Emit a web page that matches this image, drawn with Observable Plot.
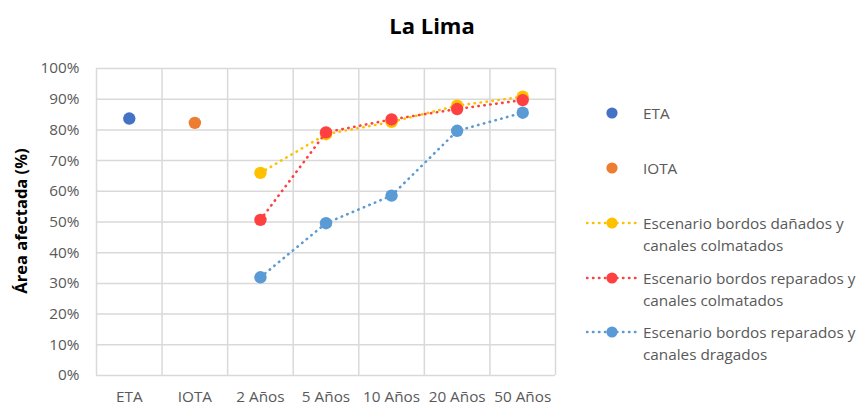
<!DOCTYPE html>
<html>
<head>
<meta charset="utf-8">
<script src="https://cdn.jsdelivr.net/npm/d3@7"></script>
<script src="https://cdn.jsdelivr.net/npm/@observablehq/plot@0.6"></script>
<style>
  html, body { margin: 0; padding: 0; background: #fff; }
  #wrap { position: relative; width: 859px; height: 405px; overflow: hidden; font-family: "Open Sans", sans-serif; }
  #title { position: absolute; left: 0; width: 864px; top: 10px; text-align: center; font-weight: bold; font-size: 22px; color: #000; line-height: 30px; }
  #ylabel { position: absolute; left: 20px; top: 221px; transform: translate(-50%, -50%) rotate(-90deg); white-space: nowrap; font-weight: bold; font-size: 16.5px; color: #000; }
  #chart { position: absolute; left: 0; top: 0; }
  .leg { position: absolute; left: 586px; display: flex; align-items: flex-start; font-size: 15.3px; color: #595959; line-height: 22px; }
  .leg svg { flex: none; margin-right: 3px; }
</style>
</head>
<body>
<div id="wrap">
  <div id="chart"></div>
  <div id="title">La Lima</div>
  <div id="ylabel">Área afectada (%)</div>
  <div id="legend"></div>
</div>
<script>
// ---- data ----
const categories = ["ETA", "IOTA", "2 Años", "5 Años", "10 Años", "20 Años", "50 Años"];
const yTicks = [0, 0.1, 0.2, 0.3, 0.4, 0.5, 0.6, 0.7, 0.8, 0.9, 1.0];
const etaCategory = ["ETA"];
const etaValues = [0.837];
const iotaCategory = ["IOTA"];
const iotaValues = [0.823];
const scenarioCategories = ["2 Años", "5 Años", "10 Años", "20 Años", "50 Años"];
const danadosColmatados = [0.660, 0.786, 0.826, 0.879, 0.908];
const reparadosColmatados = [0.507, 0.792, 0.834, 0.868, 0.897];
const reparadosDragados = [0.320, 0.496, 0.586, 0.797, 0.856];

const seriesNames = [
  "ETA",
  "IOTA",
  "Escenario bordos dañados y canales colmatados",
  "Escenario bordos reparados y canales colmatados",
  "Escenario bordos reparados y canales dragados"
];
const colors = ["#4472C4", "#ED7D31", "#FFC000", "#FF4040", "#5B9BD5"];

// ---- build tables ----
const idx = c => categories.indexOf(c);
const toRows = (cats, vals) => cats.map((c, i) => ({x: idx(c), y: vals[i]}));
const eta = toRows(etaCategory, etaValues);
const iota = toRows(iotaCategory, iotaValues);
const sA = toRows(scenarioCategories, danadosColmatados);
const sB = toRows(scenarioCategories, reparadosColmatados);
const sC = toRows(scenarioCategories, reparadosDragados);
const boundaries = d3.range(categories.length + 1).map(i => i - 0.5);

const dash = {strokeWidth: 2.6, strokeDasharray: "0.4,5.6", strokeLinecap: "round"};
const R = 6.2;

const chart = Plot.plot({
  width: 575,
  height: 405,
  marginLeft: 96,
  marginRight: 20,
  marginTop: 68,
  marginBottom: 30,
  style: {fontFamily: "Open Sans, sans-serif", fontSize: "15.3px", color: "#595959", background: "transparent"},
  x: {type: "linear", domain: [-0.5, categories.length - 0.5], ticks: d3.range(categories.length),
      tickFormat: i => categories[i], tickSize: 0, tickPadding: 16, label: null},
  y: {domain: [0, 1], ticks: yTicks, tickFormat: d3.format(".0%"), tickSize: 0, tickPadding: 17, label: null},
  marks: [
    Plot.ruleY(yTicks, {stroke: "#d9d9d9", strokeWidth: 1.5}),
    Plot.ruleX(boundaries, {stroke: "#d9d9d9", strokeWidth: 1.5}),
    Plot.dot(eta, {x: "x", y: "y", r: R, fill: colors[0]}),
    Plot.dot(iota, {x: "x", y: "y", r: R, fill: colors[1]}),
    Plot.line(sA, {x: "x", y: "y", stroke: colors[2], ...dash}),
    Plot.dot(sA, {x: "x", y: "y", r: R, fill: colors[2]}),
    Plot.line(sB, {x: "x", y: "y", stroke: colors[3], ...dash}),
    Plot.dot(sB, {x: "x", y: "y", r: R, fill: colors[3]}),
    Plot.line(sC, {x: "x", y: "y", stroke: colors[4], ...dash}),
    Plot.dot(sC, {x: "x", y: "y", r: R, fill: colors[4]})
  ]
});
document.getElementById("chart").appendChild(chart);

// ---- legend ----
const legendTops = [102, 157, 212, 267, 321];
const legend = document.getElementById("legend");
seriesNames.forEach((name, i) => {
  const item = document.createElement("div");
  item.className = "leg";
  item.style.top = legendTops[i] + "px";
  const isLine = i >= 2;
  const svg = `<svg width="54" height="22" viewBox="0 0 54 22">${
    isLine ? `<line x1="1" x2="54" y1="11" y2="11" stroke="${colors[i]}" stroke-width="2.6" stroke-dasharray="0.4,5.6" stroke-linecap="round"/>` : ""
  }<circle cx="26" cy="11" r="5.6" fill="${colors[i]}"/></svg>`;
  let label = name;
  if (isLine) {
    const k = name.indexOf(" canales");
    label = name.slice(0, k) + "<br>" + name.slice(k + 1);
  }
  item.innerHTML = svg + `<div style="margin-left:0">${label}</div>`;
  legend.appendChild(item);
});
</script>
</body>
</html>
